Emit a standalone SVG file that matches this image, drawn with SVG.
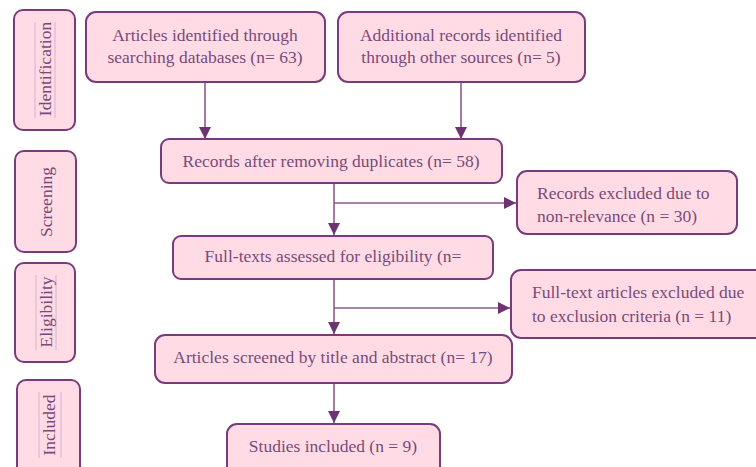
<svg xmlns="http://www.w3.org/2000/svg" width="756" height="467" viewBox="0 0 756 467">
<style>
.box{fill:#FFDCE5;stroke:#7A3B7A;stroke-width:2}
.t{font-size:17.5px;fill:#7A4A7A}
.c{text-anchor:middle}
.conn{stroke:#8E5A8E;stroke-width:1.6;fill:none}
.deco{stroke:#C9A8C9;stroke-width:0.8}
</style>
<defs>
<marker id="ah" viewBox="0 0 10 10" refX="10" refY="5" markerWidth="12" markerHeight="12" markerUnits="userSpaceOnUse" orient="auto">
<path d="M0,0 L10,5 L0,10 Z" fill="#6E3370"/>
</marker>
</defs>
<rect width="756" height="467" fill="#fff"/>
<g font-family="Liberation Serif">
<g id="stage-identification">
<rect class="box" x="14" y="10" width="61" height="120" rx="9"/>
<line class="deco" x1="35" y1="22" x2="35" y2="118"/><line class="deco" x1="55" y1="22" x2="55" y2="118"/>
<text class="t c" font-family="Liberation Serif" transform="translate(51,69) rotate(-90)">Identification</text>
</g>
<g id="stage-screening">
<rect class="box" x="15" y="151" width="61" height="101" rx="9"/>
<text class="t c" font-family="Liberation Serif" transform="translate(52,202) rotate(-90)">Screening</text>
</g>
<g id="stage-eligibility">
<rect class="box" x="15" y="263" width="60" height="99" rx="9"/>
<line class="deco" x1="36" y1="275" x2="36" y2="350"/><line class="deco" x1="56" y1="275" x2="56" y2="350"/>
<text class="t c" font-family="Liberation Serif" transform="translate(52,312) rotate(-90)">Eligibility</text>
</g>
<g id="stage-included">
<rect class="box" x="17" y="380" width="63" height="100" rx="9"/>
<line class="deco" x1="39" y1="392" x2="39" y2="458"/><line class="deco" x1="61" y1="392" x2="61" y2="458"/>
<text class="t c" font-family="Liberation Serif" transform="translate(55,425) rotate(-90)">Included</text>
</g>
<g id="connectors">
<line class="conn" x1="205" y1="82" x2="205" y2="139" marker-end="url(#ah)"/>
<line class="conn" x1="461" y1="82" x2="461" y2="139" marker-end="url(#ah)"/>
<line class="conn" x1="334" y1="183" x2="334" y2="235" marker-end="url(#ah)"/>
<line class="conn" x1="334" y1="203" x2="516" y2="203" marker-end="url(#ah)"/>
<line class="conn" x1="334" y1="279" x2="334" y2="334" marker-end="url(#ah)"/>
<line class="conn" x1="334" y1="308" x2="510" y2="308" marker-end="url(#ah)"/>
<line class="conn" x1="334" y1="383" x2="334" y2="423" marker-end="url(#ah)"/>
</g>
<g id="n-databases">
<rect class="box" x="86" y="12" width="239" height="70" rx="10"/>
<text class="t c" font-family="Liberation Serif" x="205" y="41">Articles identified through</text>
<text class="t c" font-family="Liberation Serif" x="205" y="63">searching databases (n= 63)</text>
</g>
<g id="n-other">
<rect class="box" x="338" y="12" width="247" height="70" rx="10"/>
<text class="t c" font-family="Liberation Serif" x="461" y="41">Additional records identified</text>
<text class="t c" font-family="Liberation Serif" x="461" y="63">through other sources (n= 5)</text>
</g>
<g id="n-records">
<rect class="box" x="161" y="139" width="341" height="44" rx="8"/>
<text class="t c" font-family="Liberation Serif" x="331" y="167">Records after removing duplicates (n= 58)</text>
</g>
<g id="n-excluded1">
<rect class="box" x="517" y="171" width="220" height="63" rx="10"/>
<text class="t" font-family="Liberation Serif" x="537" y="199">Records excluded due to</text>
<text class="t" font-family="Liberation Serif" x="537" y="222">non-relevance (n = 30)</text>
</g>
<g id="n-fulltexts">
<rect class="box" x="173" y="236" width="320" height="43" rx="8"/>
<text class="t c" font-family="Liberation Serif" x="333" y="262">Full-texts assessed for eligibility (n=</text>
</g>
<g id="n-excluded2">
<rect class="box" x="511" y="270" width="260" height="68" rx="10"/>
<text class="t" font-family="Liberation Serif" x="532" y="298">Full-text articles excluded due</text>
<text class="t" font-family="Liberation Serif" x="532" y="322">to exclusion criteria (n = 11)</text>
</g>
<g id="n-screened">
<rect class="box" x="155" y="335" width="357" height="48" rx="10"/>
<text class="t c" font-family="Liberation Serif" x="333" y="363">Articles screened by title and abstract (n= 17)</text>
</g>
<g id="n-included">
<rect class="box" x="227" y="424" width="213" height="60" rx="10"/>
<text class="t c" font-family="Liberation Serif" x="333" y="452">Studies included (n = 9)</text>
</g>
</g>
</svg>
